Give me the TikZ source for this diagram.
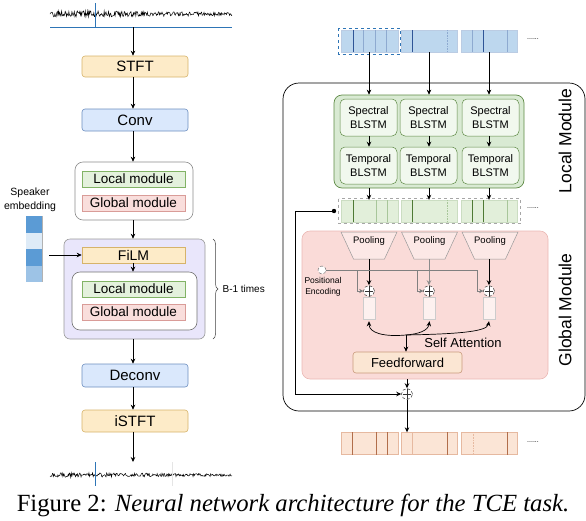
\documentclass[tikz,border=0pt]{standalone}
\usepackage{fontspec}
\setmainfont{Liberation Sans}
\newfontfamily\capfont{Liberation Serif}
\usetikzlibrary{arrows.meta,decorations.pathreplacing,shapes.geometric,calc}
\definecolor{orfill}{HTML}{FDEBC8}
\definecolor{ordraw}{HTML}{D6B36A}
\definecolor{blfill}{HTML}{DAE8FC}
\definecolor{bldraw}{HTML}{6C8EBF}
\definecolor{lgfill}{HTML}{E4F1DD}
\definecolor{lgdraw}{HTML}{82B366}
\definecolor{gmfill}{HTML}{F9DEDC}
\definecolor{gmdraw}{HTML}{D99C98}
\definecolor{lavfill}{HTML}{E9E6FB}
\definecolor{grbox}{HTML}{D9EAD3}
\definecolor{grdraw}{HTML}{5E8A45}
\definecolor{blstmfill}{HTML}{F1F8EE}
\definecolor{infill}{HTML}{BDD7EE}
\definecolor{indark}{HTML}{2F5597}
\definecolor{inlight}{HTML}{8EAAD0}
\definecolor{gfill}{HTML}{E2EFDA}
\definecolor{gdark}{HTML}{4F7A35}
\definecolor{glight}{HTML}{A8C69A}
\definecolor{pkbox}{HTML}{FADBD8}
\definecolor{pkdraw}{HTML}{EBB8B4}
\definecolor{poolfill}{HTML}{FCE8E6}
\definecolor{ofill}{HTML}{FBE5D6}
\definecolor{odark}{HTML}{9E4A1E}
\definecolor{olight}{HTML}{E6B9A0}
\definecolor{ffdraw}{HTML}{C99A7C}
\definecolor{wave}{HTML}{2E75B6}
\definecolor{embdark}{HTML}{5B9BD5}
\definecolor{emblight}{HTML}{DEEBF7}
\definecolor{embmid}{HTML}{9DC3E6}
\tikzset{
 arr/.style={-{Stealth[length=5pt,width=4.5pt]}, line width=0.7pt},
 lbox/.style={draw, rounded corners=3pt, line width=0.6pt, inner sep=0pt, font=\fontsize{15}{18}\selectfont, minimum width=106pt, minimum height=22pt},
 orbox/.style={lbox, fill=orfill, draw=ordraw},
 blbox/.style={lbox, fill=blfill, draw=bldraw},
 modl/.style={draw=lgdraw, fill=lgfill, line width=0.6pt, inner sep=0pt, minimum width=103pt, minimum height=16pt, font=\fontsize{13.5}{16}\selectfont},
 modg/.style={modl, draw=gmdraw, fill=gmfill},
 grp/.style={draw=black!45, line width=0.6pt, rounded corners=8pt, inner sep=0pt},
 blstm/.style={draw=grdraw, fill=blstmfill, rounded corners=5pt, line width=0.5pt, inner sep=0pt, minimum width=57pt, minimum height=37pt, align=center, font=\fontsize{11}{14}\selectfont},
 frm/.style={inner sep=0pt, minimum width=56.5pt, minimum height=22pt, line width=0.4pt},
 poolshape/.style={draw=black!40, fill=poolfill, line width=0.5pt},
 plusc/.style={circle, draw=black!80, densely dashed, fill=white, minimum size=11pt, inner sep=0pt, line width=0.5pt,
   path picture={\draw[solid, line width=0.6pt] ($(path picture bounding box.north)+(0,-1.5)$) -- ($(path picture bounding box.south)+(0,1.5)$) ($(path picture bounding box.west)+(1.5,0)$) -- ($(path picture bounding box.east)+(-1.5,0)$);}},
 srect/.style={draw=black!20, fill=pkbox!40, inner sep=0pt, minimum width=12pt, minimum height=22pt, line width=0.4pt},
 dots/.style={font=\fontsize{7}{8}\selectfont},
}
\begin{document}
\begin{tikzpicture}[x=1pt,y=-1pt]
\useasboundingbox (0,0) rectangle (586,520);
% ---------- waveforms ----------
\pgfmathsetseed{11}
\draw[line width=0.5pt] plot[domain=50:232, samples=300] (\x, {14 + (3.6 - 2.0*(\x-50)/182)*rand});
\draw[wave, line width=0.8pt] (50,27) -- (232,27);
\draw[wave, line width=0.8pt] (95,3) -- (95,27);
\coordinate (wtop) at (133,27);
\draw[line width=0.5pt] plot[domain=50:232, samples=300] (\x, {475 + (2.4 - 1.0*(\x-50)/182)*rand});
\draw[wave, line width=0.8pt] (95,462) -- (95,486);
\draw[black!10, line width=0.4pt] (172,462) -- (172,486);
\coordinate (wbot) at (133,462);
% ---------- left column ----------
\node[orbox, minimum height=21pt] (stft) at (135,66.5) {STFT};
\node[blbox] (conv) at (135,120) {Conv};
\node[grp, fill=white, minimum width=118pt, minimum height=58pt] (g1) at (134,191) {};
\node[modl] (loc1) at (133.5,179) {Local module};
\node[modg] (glo1) at (133.5,203) {Global module};
\node[grp, rounded corners=6pt, fill=lavfill, draw=black!40, minimum width=141pt, minimum height=100pt] (fg) at (134.5,289) {};
\node[modl, fill=orfill, draw=ordraw, font=\fontsize{14}{16}\selectfont] (film) at (133.5,255) {FiLM};
\node[grp, fill=white, draw=black!55, minimum width=125pt, minimum height=58pt] (g2) at (134.5,301) {};
\node[modl] (loc2) at (133.5,289) {Local module};
\node[modg] (glo2) at (133.5,312) {Global module};
\node[blbox, minimum height=23pt] (deconv) at (135,375.5) {Deconv};
\node[orbox] (istft) at (135,421) {iSTFT};
\draw[arr] (wtop) -- (wtop |- stft.north);
\draw[arr] (stft.south -| wtop) -- (wtop |- conv.north);
\draw[arr] (conv.south -| wtop) -- (wtop |- g1.north);
\draw[arr] (g1.south -| wtop) -- (wtop |- fg.north);
\draw[arr] (film.south -| wtop) -- (wtop |- g2.north);
\draw[arr] (fg.south -| wtop) -- (wtop |- deconv.north);
\draw[arr] (deconv.south -| wtop) -- (wtop |- istft.north);
\draw[arr] (istft.south -| wtop) -- (wbot);
% speaker embedding
\node[align=center, font=\fontsize{10.5}{14}\selectfont] (spk) at (30,200) {Speaker\\embedding};
\node[inner sep=0pt, minimum width=16pt, minimum height=66pt] (emb) at (34,249) {};
\fill[embdark] (26,216) rectangle (42,232.5);
\fill[emblight] (26,232.5) rectangle (42,249);
\fill[embdark] (26,249) rectangle (42,265.5);
\fill[embmid] (26,265.5) rectangle (42,282);
\draw[black!30, line width=0.4pt] (42,216) -- (42,282);
\coordinate (embout) at (49,255);
\draw[arr] (embout) -- (film.west |- embout);
% brace
\draw[decorate, decoration={brace, amplitude=5pt}, black!75, line width=0.5pt] (213,239) -- (213,339)
  node[midway, right=6pt, font=\fontsize{10}{12}\selectfont, text=black] (btimes) {B-1 times};
% ---------- right side ----------
\draw[line width=0.7pt, rounded corners=16pt] (283,83) rectangle (585,411);
\node[rotate=90, font=\fontsize{17.5}{20}\selectfont] (lmlab) at (565,141) {Local Module};
\node[rotate=90, font=\fontsize{17.5}{20}\selectfont] (gmlab) at (565,310) {Global Module};
% input frames
\node[frm, fill=infill, draw=inlight!60] (in1) at (369.5,41) {};
\node[frm, fill=infill, draw=inlight!60] (in2) at (429,41) {};
\node[frm, fill=infill, draw=inlight!60] (in3) at (489,41) {};
\draw[indark, line width=0.8pt] (353,30) -- (353,52) (412,30) -- (412,52) (483,30) -- (483,52);
\draw[inlight, line width=0.6pt] (363,30) -- (363,52) (375,30) -- (375,52) (386,30) -- (386,52) (472,30) -- (472,52) (507,30) -- (507,52);
\draw[inlight, densely dotted, line width=0.6pt] (447,30) -- (447,52);
\draw[wave, dashed, line width=0.6pt] (338.5,28) rectangle (400,54);
\node[dots] (d1) at (533,39) {......};
% local module
\node[draw=grdraw, fill=grbox, rounded corners=8pt, line width=0.7pt, inner sep=0pt, minimum width=190pt, minimum height=93pt] (loc) at (429,141.5) {};
\node[blstm] (sp1) at (368.5,117.5) {Spectral\\BLSTM};
\node[blstm] (sp2) at (428.5,117.5) {Spectral\\BLSTM};
\node[blstm] (sp3) at (490.5,117.5) {Spectral\\BLSTM};
\node[blstm] (tp1) at (368.5,165.5) {Temporal\\BLSTM};
\node[blstm] (tp2) at (428.5,165.5) {Temporal\\BLSTM};
\node[blstm] (tp3) at (490.5,165.5) {Temporal\\BLSTM};
\draw[arr] (in1.south -| 369,0) -- (369,0 |- loc.north);
\draw[arr] (in2.south -| 429,0) -- (429,0 |- loc.north);
\draw[arr] (in3.south -| 489,0) -- (489,0 |- loc.north);
\draw[arr] (sp1.south -| 369,0) -- (369,0 |- tp1.north);
\draw[arr] (sp2.south -| 429,0) -- (429,0 |- tp2.north);
\draw[arr] (sp3.south -| 489,0) -- (489,0 |- tp3.north);
% green frames
\node[frm, fill=gfill, draw=glight!60] (gf1) at (369.5,211) {};
\node[frm, fill=gfill, draw=glight!60] (gf2) at (429,211) {};
\node[frm, fill=gfill, draw=glight!60] (gf3) at (489,211) {};
\draw[gdark, line width=0.8pt] (353,200) -- (353,222) (412,200) -- (412,222) (472,200) -- (472,222) (483,200) -- (483,222);
\draw[glight, line width=0.6pt] (376,200) -- (376,222) (387,200) -- (387,222) (507,200) -- (507,222);
\draw[glight, densely dotted, line width=0.6pt] (447,200) -- (447,222);
\draw[black!35, dashed, line width=0.5pt] (338.5,198.5) rectangle (520.5,223.5);
\node[dots] (d2) at (533,208) {......};
\draw[arr] (loc.south -| 369,0) -- (369,0 |- gf1.north);
\draw[arr] (loc.south -| 429,0) -- (429,0 |- gf2.north);
\draw[arr] (loc.south -| 489,0) -- (489,0 |- gf3.north);
% global module
\node[draw=pkdraw, fill=pkbox, rounded corners=8pt, line width=0.6pt, inner sep=0pt, minimum width=246pt, minimum height=148pt] (glob) at (425,305) {};
\foreach \i/\cx in {1/369,2/429.5,3/490} {
  \draw[poolshape] (\cx-28,232) -- (\cx+28,232) -- (\cx+15.5,259) -- (\cx-15.5,259) -- cycle;
  \node[font=\fontsize{9.5}{11}\selectfont] (pool\i) at (\cx,241) {Pooling};
  \coordinate (pool\i b) at (\cx,259);
}
\node[plusc] (p1) at (369,291) {};
\node[plusc] (p2) at (429,291) {};
\node[plusc] (p3) at (489,291) {};
\draw[arr] (pool1b -| p1) -- (p1.north);
\draw[arr, draw=black!45, line width=1pt] (pool2b -| p2) -- (p2.north);
\draw[arr] (pool3b -| p3) -- (p3.north);
\node[circle, draw=black!55, densely dashed, fill=white, minimum size=8pt, inner sep=0pt, line width=0.5pt] (pe) at (322,270) {};
\node[align=center, font=\fontsize{8.5}{11}\selectfont] (petext) at (323,286.5) {Positional\\Encoding};
\coordinate (pd1) at (357,270);
\coordinate (pd2) at (417,270);
\coordinate (pd3) at (477,270);
\draw[black!50, line width=0.6pt] (pe.east) -- (pd3);
\draw[black!50, line width=0.6pt, -{Stealth[length=4pt,width=4pt,fill=black]}] (pd1) |- (p1.west);
\draw[black!50, line width=0.6pt, -{Stealth[length=4pt,width=4pt,fill=black]}] (pd2) |- (p2.west);
\draw[black!50, line width=0.6pt, -{Stealth[length=4pt,width=4pt,fill=black]}] (pd3) |- (p3.west);
\node[srect] (r1) at (369,308) {};
\node[srect] (r2) at (429.5,308) {};
\node[srect] (r3) at (489,308) {};
\coordinate (j) at (406,335);
\node[draw=ffdraw, fill=ofill!80!orfill, rounded corners=3pt, line width=0.6pt, inner sep=0pt, minimum width=109pt, minimum height=21pt, font=\fontsize{13}{15}\selectfont] (ff) at (407.5,362.5) {Feedforward};
\node[font=\fontsize{13}{15}\selectfont] (satt) at (463,343) {Self Attention};
\draw[arr] (j) -- (j |- ff.north);
\draw[arr] (j) .. controls (384,337) and (369,333) .. ($(r1.south)+(0,2)$);
\draw[arr] (j) .. controls (418,334) and (428,331) .. ($(r2.south)+(0,2)$);
\draw[arr] (j) .. controls (455,334) and (487,332) .. ($(r3.south)+(0,2)$);
% residual
\node[plusc] (pa) at (407,394) {};
\draw[arr] (glob.south -| pa) -- (pa.north);
\coordinate (rs) at (334,211);
\fill (rs) circle (2.2pt);
\coordinate (rc) at (295,211);
\draw[arr] (rs) -- (rc) |- (pa.west);
% orange frames
\node[frm, fill=ofill, draw=olight] (of1) at (369.5,443.5) {};
\node[frm, fill=ofill, draw=olight] (of2) at (429,443.5) {};
\node[frm, fill=ofill, draw=olight] (of3) at (489,443.5) {};
\draw[odark!80, line width=0.7pt] (352,432) -- (352,455) (376,432) -- (376,455) (387,432) -- (387,455) (447,432) -- (447,455) (507,432) -- (507,455);
\draw[olight, line width=0.6pt] (412,432) -- (412,455);
\draw[olight, densely dotted, line width=0.6pt] (473,432) -- (473,455);
\node[dots] (d3) at (533,442) {......};
\draw[arr] (pa.south) -- (pa.south |- of2.north);
% caption
\node[font=\capfont\fontsize{24.7}{28}\selectfont] (cap) at (293,505) {Figure 2: \textit{Neural network architecture for the TCE task.}};
\end{tikzpicture}
\end{document}
